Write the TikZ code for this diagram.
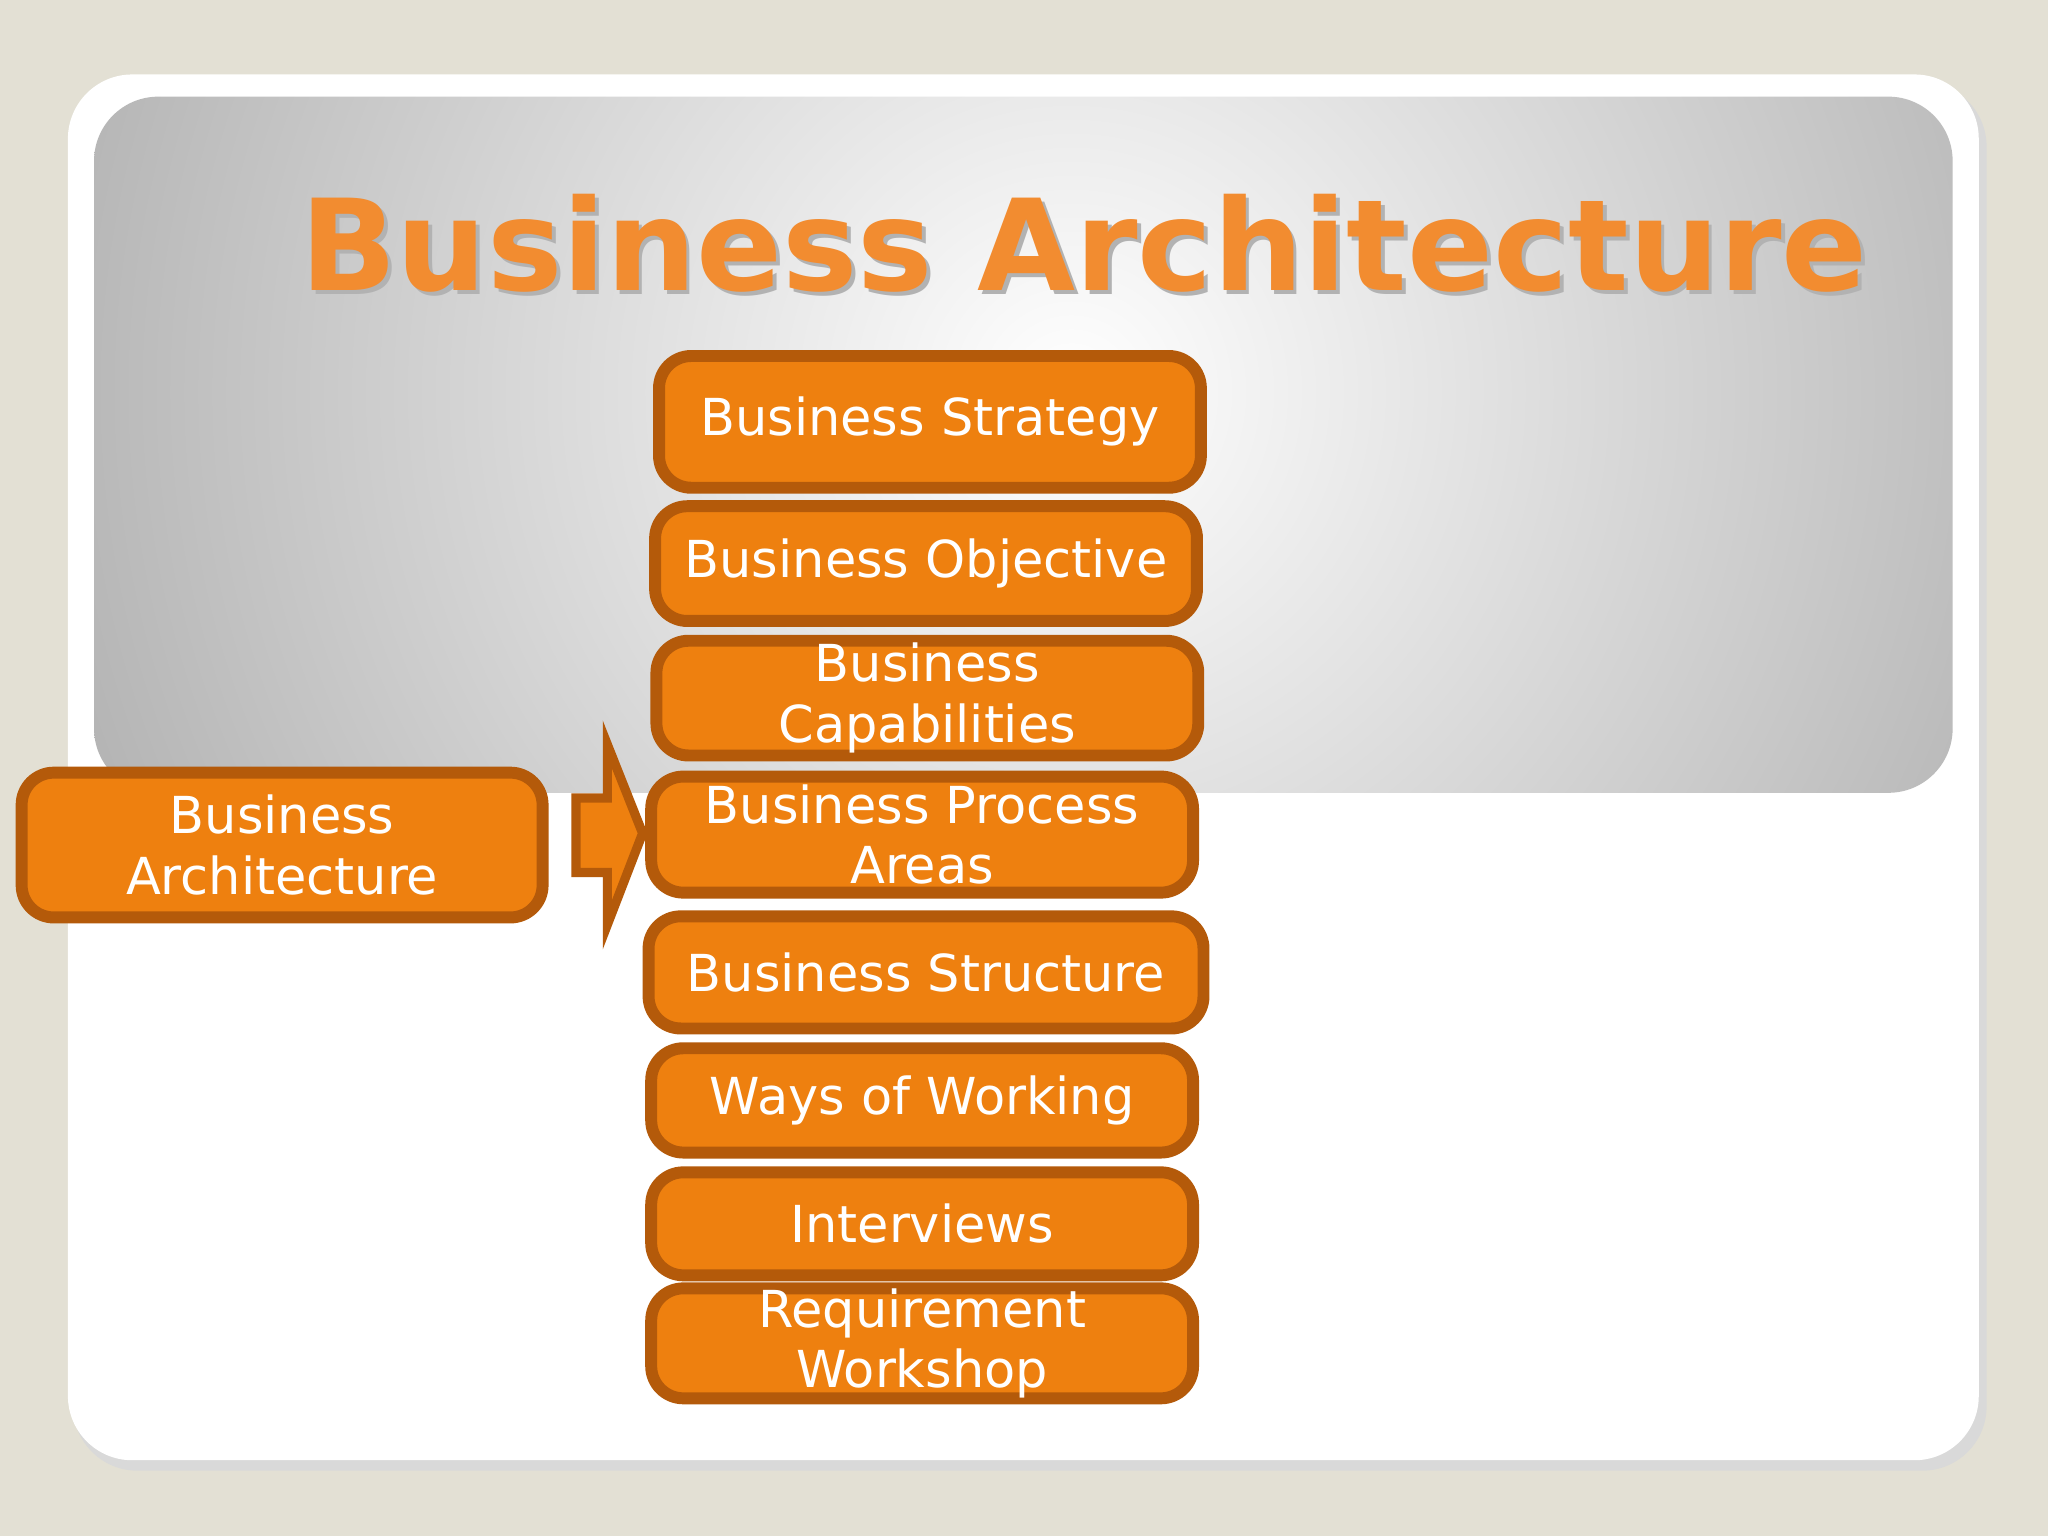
\documentclass[tikz,border=0pt]{standalone}
\usepackage{fontspec}
\setmainfont{DejaVu Sans}
\definecolor{bgc}{HTML}{E3E0D4}
\definecolor{org}{HTML}{EE800F}
\definecolor{orgd}{HTML}{B45A0A}
\definecolor{ttl}{HTML}{F28C30}
\begin{document}
\begin{tikzpicture}[x=0.01cm,y=-0.01cm,
 obox/.style={draw=orgd,fill=org,line width=2.6pt,rounded corners=7pt,text=white,align=center,font=\fontsize{11.1}{13.2}\selectfont,inner sep=0pt}]
\fill[bgc] (0,0) rectangle (1568,1176);
\useasboundingbox (0,0) rectangle (1568,1176);
\fill[black!15,rounded corners=14pt] (56,63) rectangle (1521,1126);
\fill[white,rounded corners=14pt] (52,57) rectangle (1515,1118);
\begin{scope}
\clip[rounded corners=14pt] (72,74) rectangle (1495,607);
\shade[inner color=white,outer color=black!55] (820,300) circle (1500);
\end{scope}
\node[font=\bfseries\fontsize{27.6}{30}\selectfont,text=black!30] at (833,189) {Business Architecture};
\node[font=\bfseries\fontsize{27.6}{30}\selectfont,text=ttl] (title) at (830,186) {Business Architecture};
\def\bx#1#2#3#4#5#6{\node[obox,minimum width={(#3-#2)*0.01cm-2.6pt},minimum height={(#5-#4)*0.01cm-2.6pt}] (#1) at ({(#2+#3)/2},{(#4+#5)/2}) {#6};}
\bx{s1}{500}{924}{268}{378}{Business Strategy}
\bx{s2}{497}{921}{383}{480}{Business Objective}
\bx{s3}{498}{922}{486}{583}{Business\\Capabilities}
\bx{s4}{494}{918}{590}{688}{Business Process\\Areas}
\bx{s5}{492}{926}{697}{792}{Business Structure}
\bx{s6}{494}{918}{798}{887}{Ways of Working}
\bx{s7}{494}{918}{893}{981}{Interviews}
\bx{s8}{494}{918}{991}{1066}{Requirement\\Workshop}
\bx{ba}{12}{420}{587}{707}{Business\\Architecture}
\draw[draw=orgd,fill=org,line width=2pt,line join=miter] (441,611) -- (465,611) -- (465,570) -- (492,638) -- (465,708) -- (465,668) -- (441,668) -- cycle;
\end{tikzpicture}
\end{document}
